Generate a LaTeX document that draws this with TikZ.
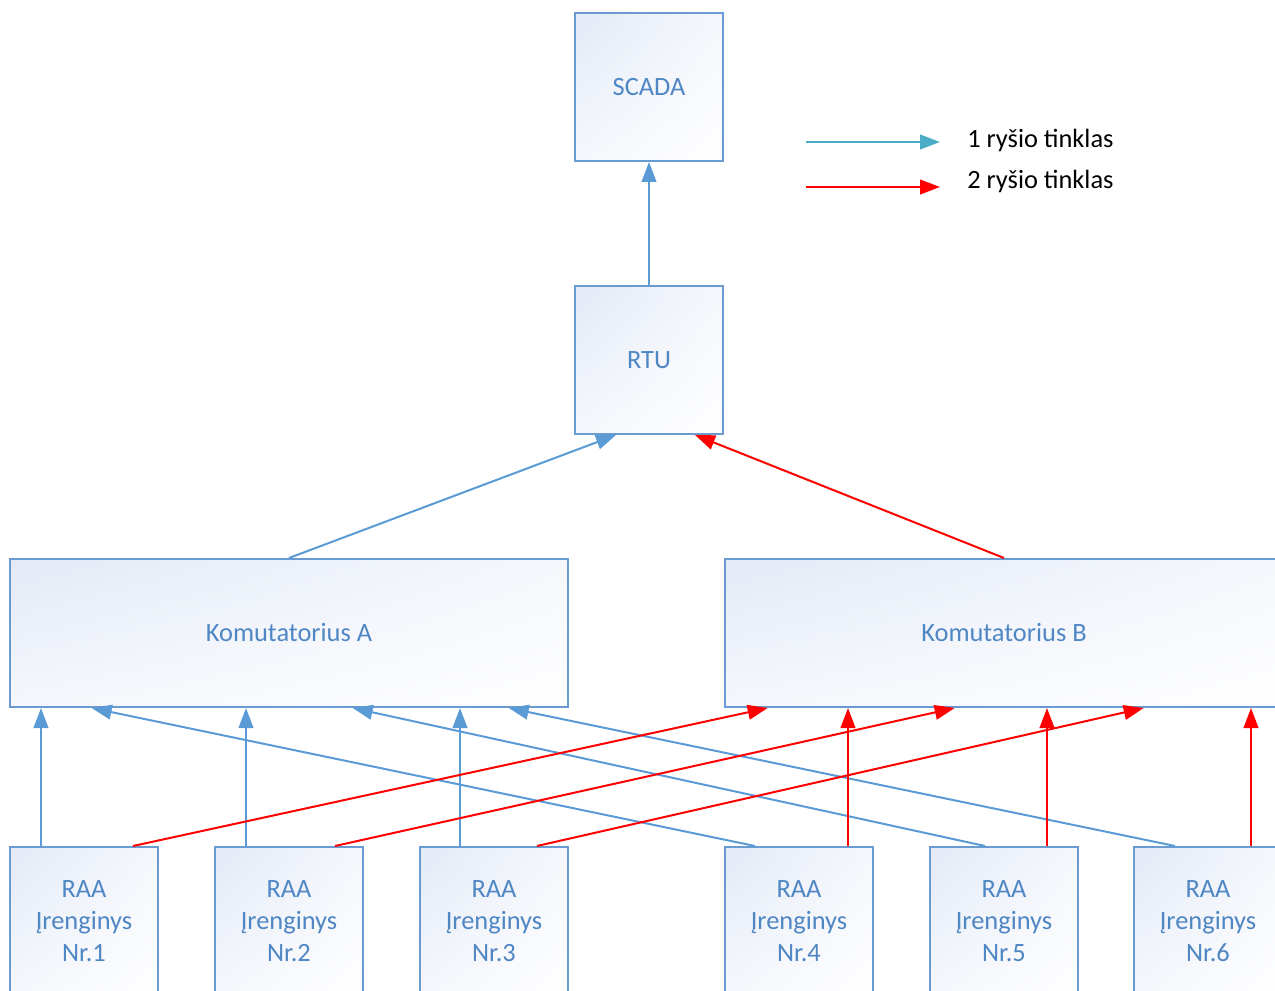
\documentclass[tikz,border=0pt]{standalone}
\usepackage{fontspec}
\setmainfont{Carlito}
\usetikzlibrary{arrows.meta,calc,shadings}

\definecolor{netone}{HTML}{5B9BD5}
\definecolor{nettwo}{HTML}{FF0000}
\definecolor{legendone}{HTML}{4BACC6}
\definecolor{boxline}{HTML}{6A9BD0}
\definecolor{boxtext}{HTML}{4F86C4}
\definecolor{shadeA}{HTML}{E3EAF6}
\definecolor{shadeB}{HTML}{F5F7FC}

\begin{document}
\begin{tikzpicture}[x=0.75pt,y=-0.75pt,
  unit/.style={draw=boxline, line width=1.5pt, inner sep=0pt,
    upper left=shadeA, upper right=shadeB, lower left=shadeB, lower right=white,
    text=boxtext, font=\fontsize{19.8}{23.8}\selectfont, align=center},
  sqbox/.style={unit, minimum width=111pt, minimum height=111pt},
  widebox/.style={unit, minimum width=419pt, minimum height=111pt},
  linkone/.style={draw=netone, line width=1.5pt, -{Triangle[length=15pt,width=11pt]}},
  linktwo/.style={draw=nettwo, line width=1.5pt, -{Triangle[length=15pt,width=11pt]}},
  legendtext/.style={font=\fontsize{19.8}{23.8}\selectfont, text=black, inner sep=0pt, anchor=west}
]
\useasboundingbox (0,0) rectangle (1275,991);
\clip (0,0) rectangle (1275,991);

% upper levels
\node[sqbox] (scada) at (649,87) {SCADA};
\node[sqbox] (rtu) at (649,360) {RTU};
\node[widebox] (ka) at (289,633) {Komutatorius A};
\node[widebox] (kb) at (1004,633) {Komutatorius B};

% field devices
\foreach \i/\x in {1/84,2/289,3/494,4/799,5/1004,6/1208}
  \node[sqbox] (r\i) at (\x,921) {RAA\\Įrenginys\\Nr.\i};

% attachment points on the device tops
\coordinate (b1) at ($(r1.north west)+(32,0)$);
\coordinate (b2) at ($(r2.north west)+(32,0)$);
\coordinate (b3) at ($(r3.north west)+(41,0)$);
\coordinate (b4) at ($(r4.north west)+(31,0)$);
\coordinate (b5) at ($(r5.north west)+(56,0)$);
\coordinate (b6) at ($(r6.north west)+(42,0)$);
\coordinate (t1) at ($(r1.north west)+(124,0)$);
\coordinate (t2) at ($(r2.north west)+(121,0)$);
\coordinate (t3) at ($(r3.north west)+(118,0)$);
\coordinate (t4) at ($(r4.north west)+(124,0)$);
\coordinate (t5) at ($(r5.north west)+(118,0)$);
\coordinate (t6) at ($(r6.north west)+(118,0)$);

% network 1 (blue) into switch A
\draw[linkone] (b1) -- (b1 |- ka.south);
\draw[linkone] (b2) -- (b2 |- ka.south);
\draw[linkone] (b3) -- (b3 |- ka.south);
\draw[linkone] (b4) -- ($(ka.south west)+(83,0)$);
\draw[linkone] (b5) -- ($(ka.south west)+(344,0)$);
\draw[linkone] (b6) -- ($(ka.south west)+(500,0)$);

% network 2 (red) into switch B
\draw[linktwo] (t1) -- ($(kb.south west)+(44,0)$);
\draw[linktwo] (t2) -- ($(kb.south west)+(231,0)$);
\draw[linktwo] (t3) -- ($(kb.south west)+(420,0)$);
\draw[linktwo] (t4) -- (t4 |- kb.south);
\draw[linktwo] (t5) -- (t5 |- kb.south);
\draw[linktwo] (t6) -- (t6 |- kb.south);

% switches to RTU, RTU to SCADA
\draw[linkone] (ka.north) -- ($(rtu.south west)+(42,0)$);
\draw[linktwo] (kb.north) -- ($(rtu.south west)+(121,0)$);
\draw[linkone] (rtu.north) -- (scada.south);

% legend
\coordinate (l1a) at (806,142);
\coordinate (l1b) at (940,142);
\coordinate (l2a) at (806,187);
\coordinate (l2b) at (940,187);
\draw[line width=1.5pt, draw=legendone, -{Triangle[length=15pt,width=11pt]}] (l1a) -- (l1b);
\draw[line width=1.5pt, draw=nettwo, -{Triangle[length=15pt,width=11pt]}] (l2a) -- (l2b);
\node[legendtext] (leg1) at (967,140) {1 ryšio tinklas};
\node[legendtext] (leg2) at (967,181) {2 ryšio tinklas};
\end{tikzpicture}
\end{document}
